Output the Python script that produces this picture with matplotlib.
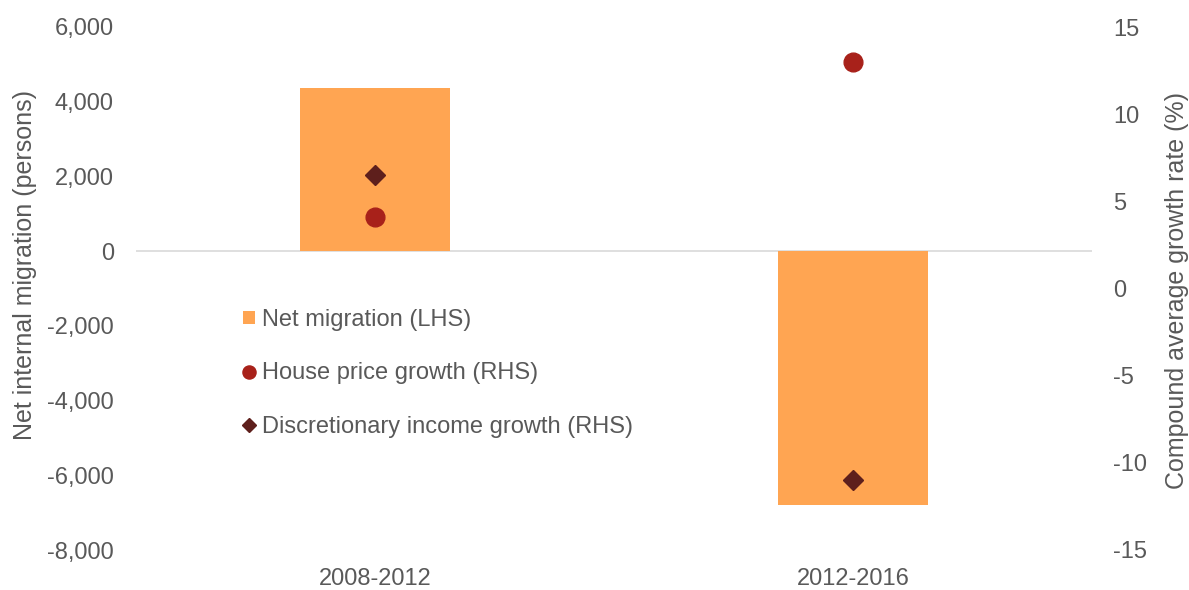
import numpy as np
import matplotlib.pyplot as plt

plt.rcParams['font.family'] = ['Liberation Sans', 'DejaVu Sans']
plt.rcParams['axes.unicode_minus'] = False

periods = ['2008-2012', '2012-2016']
net_migration = [4370, -6800]
house_price_growth = [4.1, 13.0]
income_growth = [6.5, -11.0]

bar_color = '#FFA552'
dot_color = '#A8211A'
diamond_color = '#5E1F1C'
text_color = '#595959'

fig = plt.figure(figsize=(11.89, 5.90), dpi=100)
ax = fig.add_axes([136/1189, 1-550/590, (1092-136)/1189, (550-27)/590])

x = np.arange(len(periods))
bars = ax.bar(x, net_migration, width=0.314, color=bar_color, zorder=2)
ax.axhline(0, color='#d9d9d9', lw=1.2, zorder=1)
ax.set_xlim(-0.5, 1.5)
ax.set_ylim(-8000, 6000)
yt = np.arange(-8000, 6001, 2000)
ax.set_yticks(yt)
ax.set_yticklabels([f'{v:,.0f}' for v in yt])
ax.set_xticks(x)
ax.set_xticklabels(periods)
ax.tick_params(length=0, labelsize=17, colors=text_color)
ax.tick_params(axis='y', pad=16)
ax.tick_params(axis='x', pad=13)
for s in ax.spines.values():
    s.set_visible(False)
ax.set_ylabel('Net internal migration (persons)', fontsize=18, color=text_color)
ax.yaxis.set_label_coords(-0.104, 0.545)

ax2 = ax.twinx()
ax2.set_ylim(-15, 15)
ax2.set_yticks(np.arange(-15, 16, 5))
ax2.tick_params(length=0, labelsize=17, colors=text_color, pad=15)
for s in ax2.spines.values():
    s.set_visible(False)
h1, = ax2.plot(x, house_price_growth, 'o', color=dot_color, markersize=13.5, ls='none', zorder=3)
h2, = ax2.plot(x, income_growth, 'D', color=diamond_color, markersize=10, ls='none', zorder=3)
ax2.set_ylabel('Compound average growth rate (%)', fontsize=18, color=text_color)
ax2.yaxis.set_label_coords(1.076, 0.497)

leg = fig.legend([bars, h1, h2],
                 ['Net migration (LHS)', 'House price growth (RHS)', 'Discretionary income growth (RHS)'],
                 loc='upper left', bbox_to_anchor=(243/1189, 1-309/590), frameon=False,
                 fontsize=17, handlelength=0.5, handleheight=0.5, handletextpad=0.3,
                 labelspacing=1.33, markerscale=0.7, borderpad=0, borderaxespad=0)
for t in leg.get_texts():
    t.set_color(text_color)

fig.savefig('out.png', dpi=100)
